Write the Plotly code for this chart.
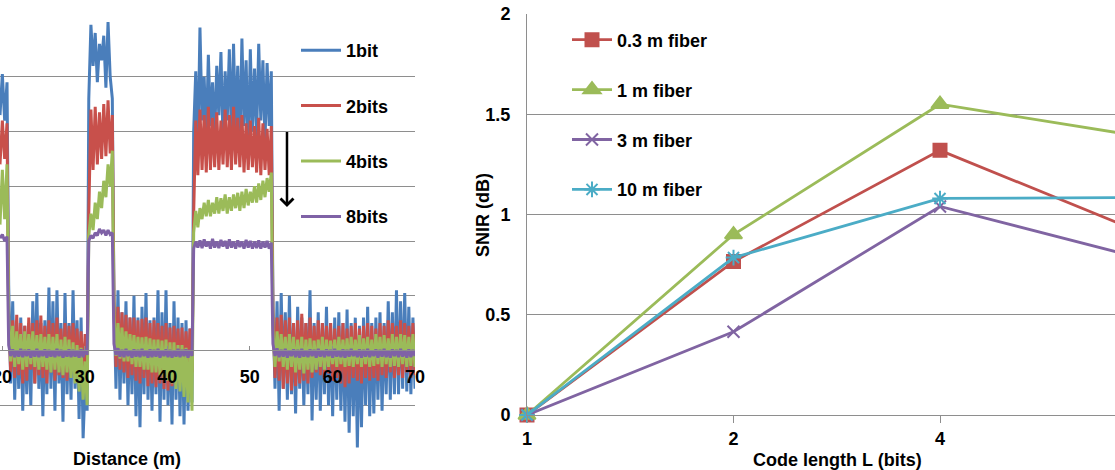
import numpy as np
import plotly.graph_objects as go

# ---------------- Left chart: distance traces ----------------
# sample segments along distance (m): pulse1 tail, gap A, pulse2, gap B, pulse3, gap C
SEGMENTS = [(19.75, 20.6), (20.8, 30.3), (30.5, 33.35), (33.55, 43.0), (43.2, 52.6), (52.8, 70.0)]

blue_p1 = [4.3, 5.05, 4.2, 4.9]
blue_a = [1.2, -0.6, 0.9, -0.9, 0.5, -0.7, 0.6, -1.1, 0.45, -0.8, 0.5, -1.0, 0.9, -0.6, 1.05, -0.7,
          0.5, -1.2, 0.55, -0.8, 1.15, -0.7, 0.9, -1.1, 1.1, -0.6, 0.5, -1.3, 1.05, -0.8, 0.5, -0.9,
          1.1, -0.7, 0.55, -1.25, 0.6, -1.6, -0.6, -1.1]
blue_p2 = [4.6, 5.95, 5.2, 5.8, 4.9, 5.6, 5.3, 5.75, 4.8, 6.0, 5.0, 4.6]
blue_b = [0.9, -0.7, 1.1, -0.9, 0.7, -0.6, 0.9, -1.0, 0.6, -0.8, 1.0, -1.2, 0.6, -1.4, 0.8, -0.8,
          1.05, -0.9, 0.55, -1.1, 0.6, -0.8, 1.1, -1.3, 0.7, -0.9, 1.1, -1.0, 0.5, -1.35, 0.9, -0.9,
          0.6, -1.2, 0.5, -1.35, 0.55, -1.1, 0.4, -0.95]
blue_p3 = [4.0, 5.1, 3.6, 5.9, 4.2, 5.0, 3.8, 5.4, 4.1, 4.9, 3.9, 5.2, 4.3, 5.45, 3.8, 5.1, 4.2, 5.5,
           3.9, 5.6, 4.0, 5.2, 3.7, 5.7, 4.1, 5.3, 3.5, 5.5, 4.0, 5.15, 3.9, 5.6, 4.2, 5.3, 3.8, 5.25,
           4.1, 5.1]
blue_c = [0.8, -0.7, 0.9, -1.1, 1.05, -0.7, 0.7, -0.9, 1.0, -0.8, 0.5, -1.15, 0.8, -0.7, 0.6, -1.0,
          0.5, -0.8, 1.1, -1.28, 0.5, -0.9, 0.7, -1.1, 0.5, -0.8, 0.8, -1.0, 0.5, -1.2, 0.6, -0.9,
          0.7, -1.1, 0.5, -1.3, 0.75, -1.5, 0.5, -1.2, 0.6, -1.77, 0.45, -1.4, 0.6, -1.0, 0.8, -1.2,
          0.5, -1.15, 0.6, -0.9, 0.7, -1.1, 0.5, -0.8, 0.9, -0.9, 0.7, -0.8, 1.1, -0.8, 0.9, -0.7,
          1.05, -0.75, 0.8, -0.8, 0.6, -0.7]

red_p1 = [3.4, 4.2, 3.5, 4.15]
red_a = [0.6, -0.4, 0.55, -0.5, 0.65, -0.45, 0.5, -0.6, 0.45, -0.55, 0.6, -0.35, 0.5, -0.6, 0.55,
         -0.45, 0.64, -0.5, 0.45, -0.6, 0.55, -0.4, 0.5, -0.55, 0.6, -0.45, 0.4, -0.5, 0.5, -0.55,
         0.45, -0.4, 0.5, -0.5, 0.4, -0.45, 0.35, -0.5, 0.3, -0.4]
red_p2 = [2.5, 4.4, 3.3, 4.45, 3.4, 4.35, 3.5, 4.5, 3.55, 4.57, 3.6, 4.3]
red_b = [0.9, -0.3, 0.8, -0.35, 0.7, -0.4, 0.65, -0.5, 0.6, -0.45, 0.6, -0.55, 0.55, -0.6, 0.58,
         -0.5, 0.6, -0.65, 0.5, -0.6, 0.55, -0.67, 0.5, -0.6, 0.45, -0.7, 0.5, -0.73, 0.42, -0.65,
         0.45, -0.6, 0.4, -0.55, 0.42, -0.5, 0.35, -0.45, 0.4, -0.4]
red_p3 = [2.5, 4.2, 3.2, 4.4, 3.3, 4.3, 3.25, 4.45, 3.3, 4.25, 3.35, 4.35, 3.3, 4.2, 3.4, 4.4, 3.35,
          4.3, 3.3, 4.45, 3.4, 4.25, 3.35, 4.3, 3.25, 4.15, 3.3, 4.2, 3.35, 4.1, 3.25, 4.25, 3.2,
          4.15, 3.3, 4.05, 3.2, 4.1]
red_c = [0.7, -0.5, 0.6, -0.55, 0.65, -0.7, 0.55, -0.6, 0.6, -0.73, 0.5, -0.65, 0.55, -0.6, 0.67,
         -0.55, 0.5, -0.6, 0.6, -0.5, 0.45, -0.4, 0.55, -0.45, 0.5, -0.5, 0.45, -0.42, 0.5, -0.55,
         0.4, -0.5, 0.45, -0.6, 0.5, -0.67, 0.4, -0.6, 0.45, -0.5, 0.5, -0.55, 0.4, -0.6, 0.45,
         -0.5, 0.5, -0.55, 0.45, -0.5, 0.4, -0.55, 0.5, -0.45, 0.45, -0.5, 0.55, -0.4, 0.5, -0.5,
         0.45, -0.45, 0.55, -0.5, 0.5, -0.4, 0.45, -0.5, 0.5, -0.45]

green_p1 = [2.3, 3.3, 2.4, 3.4]
green_a = [0.6, -0.2, 0.45, -0.3, 0.35, -0.25, 0.3, -0.35, 0.35, -0.3, 0.3, -0.25, 0.35, -0.3, 0.28,
           -0.35, 0.3, -0.3, 0.25, -0.35, 0.3, -0.4, 0.25, -0.35, 0.3, -0.4, 0.2, -0.45, 0.25, -0.4,
           0.2, -0.5, 0.15, -0.6, 0.1, -0.75, 0.05, -0.9, -0.2, -1.0]
green_p2 = [2.1, 2.5, 2.2, 2.7, 2.4, 2.9, 2.6, 3.1, 2.8, 3.4, 3.0, 3.65]
green_b = [0.65, -0.1, 0.5, -0.15, 0.42, -0.2, 0.35, -0.2, 0.3, -0.25, 0.28, -0.3, 0.25, -0.3, 0.24,
           -0.35, 0.25, -0.35, 0.22, -0.4, 0.2, -0.4, 0.2, -0.45, 0.18, -0.5, 0.2, -0.55, 0.15, -0.6,
           0.15, -0.7, 0.1, -0.75, 0.1, -0.85, 0.05, -0.95, 0.0, -1.1]
green_p3 = [2.15, 2.55, 2.25, 2.6, 2.4, 2.7, 2.45, 2.75, 2.45, 2.7, 2.5, 2.8, 2.5, 2.78, 2.55, 2.85,
            2.5, 2.8, 2.55, 2.85, 2.6, 2.88, 2.55, 2.9, 2.6, 2.95, 2.65, 2.9, 2.7, 3.0, 2.7, 3.05,
            2.75, 3.1, 2.8, 3.15, 2.9, 3.25]
green_c = [0.4, -0.3, 0.35, -0.2, 0.3, -0.3, 0.25, -0.35, 0.3, -0.3, 0.25, -0.4, 0.2, -0.35, 0.25,
           -0.42, 0.2, -0.35, 0.22, -0.4, 0.18, -0.35, 0.2, -0.3, 0.25, -0.35, 0.2, -0.3, 0.18,
           -0.25, 0.2, -0.3, 0.25, -0.25, 0.2, -0.3, 0.22, -0.28, 0.25, -0.3, 0.2, -0.25, 0.28,
           -0.3, 0.22, -0.25, 0.25, -0.3, 0.2, -0.28, 0.3, -0.25, 0.25, -0.3, 0.28, -0.25, 0.22,
           -0.3, 0.3, -0.28, 0.25, -0.3, 0.3, -0.25, 0.28, -0.3, 0.25, -0.28, 0.3, -0.3]

purple_p1 = [2.05, 2.12, 2.0, 2.08]
purple_a = [0.1, -0.1, 0.02, -0.12, 0.0, -0.11, 0.03, -0.12, 0.01, -0.1, 0.02, -0.13, 0.0, -0.11,
            0.03, -0.12, 0.0, -0.1, 0.02, -0.13, 0.01, -0.11, 0.0, -0.12, 0.03, -0.1, 0.01, -0.13,
            0.0, -0.11, 0.02, -0.12, 0.01, -0.11, 0.0, -0.13, 0.02, -0.12, 0.03, -0.08]
purple_p2 = [2.0, 2.1, 2.05, 2.15, 2.1, 2.22, 2.15, 2.2, 2.1, 2.2, 2.12, 2.15]
purple_b = [0.12, -0.08, 0.04, -0.11, 0.01, -0.12, 0.03, -0.1, 0.0, -0.13, 0.02, -0.11, 0.01,
            -0.12, 0.03, -0.1, 0.0, -0.13, 0.02, -0.12, 0.01, -0.11, 0.03, -0.13, 0.0, -0.1,
            0.02, -0.12, 0.01, -0.13, 0.0, -0.11, 0.03, -0.12, 0.01, -0.1, 0.02, -0.13, 0.01, -0.1]
purple_p3 = [1.86, 1.99, 1.88, 2.01, 1.87, 2.03, 1.9, 1.99, 1.86, 2.04, 1.88, 1.99, 1.87, 2.02,
             1.9, 2.0, 1.86, 2.03, 1.88, 1.99, 1.86, 2.01, 1.89, 1.99, 1.86, 2.02, 1.88, 2.0,
             1.86, 1.99, 1.87, 2.01, 1.86, 1.99, 1.88, 2.0, 1.86, 1.97]
purple_c = [0.12, -0.1, 0.04, -0.12, 0.01, -0.11, 0.03, -0.13, 0.0, -0.1, 0.02, -0.12, 0.01,
            -0.13, 0.03, -0.11, 0.0, -0.12, 0.02, -0.1, 0.01, -0.13, 0.03, -0.11, 0.0, -0.12,
            0.02, -0.1, 0.01, -0.13, 0.03, -0.11, 0.0, -0.12, 0.02, -0.13, 0.01, -0.11, 0.03,
            -0.1, 0.0, -0.12, 0.02, -0.13, 0.01, -0.11, 0.03, -0.12, 0.0, -0.1, 0.02, -0.13,
            0.01, -0.11, 0.03, -0.12, 0.0, -0.13, 0.02, -0.1, 0.01, -0.12, 0.03, -0.11, 0.0,
            -0.13, 0.02, -0.12, 0.01, -0.1]

left_names = ["1bit", "2bits", "4bits", "8bits"]
left_colors = ["#4A7EBB", "#C8504B", "#9BBB59", "#7F62A6"]
left_series = [
    [blue_p1, blue_a, blue_p2, blue_b, blue_p3, blue_c],
    [red_p1, red_a, red_p2, red_b, red_p3, red_c],
    [green_p1, green_a, green_p2, green_b, green_p3, green_c],
    [purple_p1, purple_a, purple_p2, purple_b, purple_p3, purple_c],
]

# ---------------- Right chart: SNIR vs code length ----------------
code_length = ["1", "2", "4", "8"]
snir_03m = [0.0, 0.765, 1.32, 0.90]
snir_1m = [0.0, 0.90, 1.55, 1.385]
snir_3m = [0.0, 0.415, 1.04, 0.775]
snir_10m = [0.0, 0.785, 1.08, 1.085]
right_names = ["0.3 m fiber", "1 m fiber", "3 m fiber", "10 m fiber"]
right_colors = ["#C0504D", "#9BBB59", "#8064A2", "#4BACC6"]
right_symbols = ["square", "triangle-up", "x-thin-open", "asterisk-open"]
right_sizes = [13, 15, 12, 13]

FONT = "Liberation Sans, Arial, sans-serif"
GRID = "#8E8E8E"

fig = go.Figure()


def build(segs):
    xs, ys = [], []
    for (a, b), vals in zip(SEGMENTS, segs):
        xs.extend(np.linspace(a, b, len(vals)).tolist())
        ys.extend(vals)
    return xs, ys


for name, color, segs in zip(left_names, left_colors, left_series):
    xs, ys = build(segs)
    fig.add_trace(go.Scatter(
        x=xs, y=ys, mode="lines", name=name, legendgroup=name, legend="legend",
        line=dict(color=color, width=3.0), xaxis="x", yaxis="y"))

right_data = [snir_03m, snir_1m, snir_3m, snir_10m]
for name, color, sym, size, vals in zip(right_names, right_colors, right_symbols, right_sizes, right_data):
    fig.add_trace(go.Scatter(
        x=code_length, y=vals, mode="lines+markers", name=name, legendgroup=name,
        legend="legend2", line=dict(color=color, width=2.8),
        marker=dict(symbol=sym, size=size, color=color, line=dict(color=color, width=2)),
        cliponaxis=False, xaxis="x2", yaxis="y2"))

W, H = 1115, 470


def px(xp):
    return xp / W


def py(yp):
    return (H - yp) / H


tickfont = dict(family=FONT, size=18, color="black", weight=700)

fig.update_layout(
    width=W, height=H, margin=dict(l=0, r=0, t=0, b=0, pad=0, autoexpand=False),
    paper_bgcolor="white", plot_bgcolor="white",
    font=dict(family=FONT, size=18, color="black", weight=700),
    xaxis=dict(domain=[0, px(415)], range=[19.75, 70], tickvals=[20, 30, 40, 50, 60, 70],
               anchor="free", position=py(350), showline=True, linecolor=GRID, linewidth=1,
               ticks="inside", ticklen=4, tickcolor=GRID, showgrid=False, zeroline=False,
               ticklabelstandoff=10, ticklabeloverflow="allow", layer="above traces",
               tickfont=tickfont, automargin=False),
    yaxis=dict(domain=[py(460), py(22)], range=[-2, 6], dtick=1, showticklabels=False,
               showgrid=True, gridcolor=GRID, gridwidth=1, zeroline=False, showline=False,
               anchor="x", automargin=False),
    xaxis2=dict(domain=[px(527), 1.0], type="category", range=[0, (W - 527) / 206.5],
                anchor="y2", showline=True, linecolor=GRID, linewidth=1, ticks="outside",
                ticklen=7, tickcolor=GRID, showgrid=False, zeroline=False,
                ticklabelstandoff=0, tickfont=tickfont, automargin=False),
    yaxis2=dict(domain=[py(415), py(14)], range=[0, 2], dtick=0.5, anchor="x2",
                showgrid=True, gridcolor=GRID, gridwidth=1, zeroline=False, showline=True,
                linecolor=GRID, linewidth=1, ticks="", ticklabelstandoff=12, tickfont=tickfont,
                automargin=False),
    legend=dict(x=px(296), y=py(32), xanchor="left", yanchor="top", bgcolor="rgba(0,0,0,0)",
                font=dict(family=FONT, size=18, color="black", weight=700),
                tracegroupgap=29, itemwidth=40),
    legend2=dict(x=px(567), y=py(21.5), xanchor="left", yanchor="top", bgcolor="rgba(0,0,0,0)",
                 font=dict(family=FONT, size=18, color="black", weight=700),
                 tracegroupgap=23.5, itemwidth=40),
    showlegend=True,
)

fig.add_annotation(text="Distance (m)", x=px(127), y=py(459), xref="paper", yref="paper",
                   showarrow=False, xanchor="center", yanchor="middle",
                   font=dict(family=FONT, size=18, color="black", weight=700))
fig.add_annotation(text="Code length L (bits)", x=px(837), y=py(460), xref="paper", yref="paper",
                   showarrow=False, xanchor="center", yanchor="middle",
                   font=dict(family=FONT, size=18, color="black", weight=700))
fig.add_annotation(text="SNIR (dB)", x=px(483), y=py(215), xref="paper", yref="paper",
                   showarrow=False, xanchor="center", yanchor="middle", textangle=-90,
                   font=dict(family=FONT, size=18, color="black", weight=700))
# downward arrow on the left chart
fig.add_annotation(text="", x=54.5, y=2.62, ax=54.5, ay=4.02, xref="x", yref="y",
                   axref="x", ayref="y", showarrow=True, arrowhead=4, arrowwidth=2.5,
                   arrowsize=1, arrowcolor="black", standoff=0)

fig.write_html("out.html")
